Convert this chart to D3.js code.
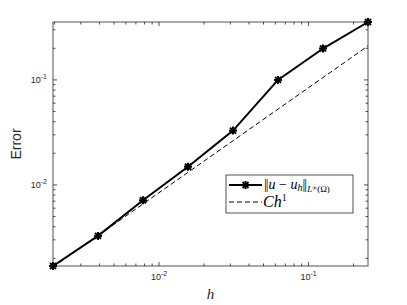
<!DOCTYPE html>
<html><head><meta charset="utf-8">
<script src="https://d3js.org/d3.v7.min.js"></script>
<style>body{margin:0;background:#fff}svg{display:block}</style>
</head><body>
<script>
const hValues = [0.001953125, 0.00390625, 0.0078125, 0.015625, 0.03125, 0.0625, 0.125, 0.25];
const errValues = [0.00169, 0.00327, 0.00714, 0.0149, 0.0329, 0.100, 0.199, 0.356];
const refC = 0.843;
const refValues = hValues.map(h => refC * h);
const xTickValues = [0.01, 0.1];
const yTickValues = [0.01, 0.1];
const xTickLabels = ["10", "10"];
const xTickExps = ["-2", "-1"];
const yTickLabels = ["10", "10"];
const yTickExps = ["-2", "-1"];

const W = 407, H = 305;
const m = {l: 53, r: 368, t: 22, b: 266};
const svg = d3.select("body").append("svg").attr("width", W).attr("height", H);
const x = d3.scaleLog().domain([hValues[0], hValues[hValues.length-1]]).range([m.l, m.r]);
const y = d3.scaleLog().domain([0.00169, 0.356]).range([m.b, m.t]);
const axisColor = "#262626";

svg.append("rect").attr("x", m.l).attr("y", m.t).attr("width", m.r - m.l).attr("height", m.b - m.t)
  .attr("fill", "none").attr("stroke", axisColor).attr("stroke-width", 0.8);

function minorTicks(dom) {
  const out = [];
  for (let e = -4; e <= 1; e++) for (let k = 1; k <= 9; k++) {
    const v = k * Math.pow(10, e);
    if (v >= dom[0] * 0.999 && v <= dom[1] * 1.001) out.push({v, major: k === 1});
  }
  return out;
}
const g = svg.append("g").attr("stroke", axisColor).attr("stroke-width", 0.8);
minorTicks(x.domain()).forEach(t => {
  const L = t.major ? 4 : 2.5, px = x(t.v);
  g.append("line").attr("x1", px).attr("x2", px).attr("y1", m.b).attr("y2", m.b - L);
  g.append("line").attr("x1", px).attr("x2", px).attr("y1", m.t).attr("y2", m.t + L);
});
minorTicks(y.domain()).forEach(t => {
  const L = t.major ? 4 : 2.5, py = y(t.v);
  g.append("line").attr("y1", py).attr("y2", py).attr("x1", m.l).attr("x2", m.l + L);
  g.append("line").attr("y1", py).attr("y2", py).attr("x1", m.r).attr("x2", m.r - L);
});

xTickValues.forEach((v, i) => {
  const t = svg.append("text").attr("x", x(v)).attr("y", m.b + 14).attr("text-anchor", "middle")
    .attr("font-family", "Liberation Sans, Arial, sans-serif").attr("font-size", 9).attr("fill", axisColor);
  t.append("tspan").text(xTickLabels[i]);
  t.append("tspan").attr("dy", -4).attr("font-size", 7).text(xTickExps[i]);
});
yTickValues.forEach((v, i) => {
  const t = svg.append("text").attr("x", m.l - 6).attr("y", y(v) + 3).attr("text-anchor", "end")
    .attr("font-family", "Liberation Sans, Arial, sans-serif").attr("font-size", 9).attr("fill", axisColor);
  t.append("tspan").text(yTickLabels[i]);
  t.append("tspan").attr("dy", -4).attr("font-size", 7).text(yTickExps[i]);
});

svg.append("text").attr("transform", `translate(21,${(m.t + m.b) / 2}) rotate(-90)`).attr("text-anchor", "middle")
  .attr("font-family", "Liberation Sans, Arial, sans-serif").attr("font-size", 14).attr("fill", axisColor).text("Error");
svg.append("text").attr("x", (m.l + m.r) / 2).attr("y", 299).attr("text-anchor", "middle")
  .attr("font-family", "Liberation Serif, DejaVu Serif, serif").attr("font-style", "italic").attr("font-size", 15)
  .attr("fill", axisColor).text("h");

const line = d3.line().x(d => x(d[0])).y(d => y(d[1]));
svg.append("path").datum(hValues.map((h, i) => [h, refValues[i]])).attr("d", line)
  .attr("fill", "none").attr("stroke", "#000").attr("stroke-width", 1).attr("stroke-dasharray", "5,3");

svg.append("path").datum(hValues.map((h, i) => [h, errValues[i]])).attr("d", line)
  .attr("fill", "none").attr("stroke", "#000").attr("stroke-width", 2);

function asterisk(sel, cx, cy, r) {
  const gg = sel.append("g").attr("stroke", "#000").attr("stroke-width", 2);
  gg.append("line").attr("x1", cx - r).attr("x2", cx + r).attr("y1", cy).attr("y2", cy);
  gg.append("line").attr("x1", cx).attr("x2", cx).attr("y1", cy - r).attr("y2", cy + r);
  const d = r * 0.75;
  gg.append("line").attr("x1", cx - d).attr("x2", cx + d).attr("y1", cy - d).attr("y2", cy + d);
  gg.append("line").attr("x1", cx - d).attr("x2", cx + d).attr("y1", cy + d).attr("y2", cy - d);
}
hValues.forEach((h, i) => asterisk(svg, x(h), y(errValues[i]), 4));

const lg = svg.append("g");
lg.append("rect").attr("x", 226).attr("y", 175).attr("width", 127).attr("height", 38)
  .attr("fill", "#fff").attr("stroke", axisColor).attr("stroke-width", 0.8);
lg.append("line").attr("x1", 229).attr("x2", 262).attr("y1", 185).attr("y2", 185).attr("stroke", "#000").attr("stroke-width", 2);
asterisk(lg, 245.5, 185, 4);
lg.append("line").attr("x1", 229).attr("x2", 262).attr("y1", 202).attr("y2", 202).attr("stroke", "#000")
  .attr("stroke-width", 1).attr("stroke-dasharray", "5,3");
const lserif = "Liberation Serif, DejaVu Serif, serif";
const t1 = lg.append("text").attr("x", 264).attr("y", 189).attr("font-family", lserif).attr("font-size", 14).attr("fill", "#000");
t1.append("tspan").attr("letter-spacing", -1).text("||");
t1.append("tspan").attr("font-style", "italic").attr("dx", 1).text("u");
t1.append("tspan").text(" − ");
t1.append("tspan").attr("font-style", "italic").text("u");
t1.append("tspan").attr("font-style", "italic").attr("font-size", 10).attr("dy", 2).text("h");
t1.append("tspan").attr("dy", -2).attr("letter-spacing", -1).text("||");
t1.append("tspan").attr("font-style", "italic").attr("font-size", 9).attr("dy", 3).attr("dx", 1).text("L");
t1.append("tspan").attr("font-size", 7).attr("dy", -2).text("∞");
t1.append("tspan").attr("font-size", 9).attr("dy", 2).text("(Ω)");
const t2 = lg.append("text").attr("x", 263).attr("y", 207).attr("font-family", lserif).attr("font-size", 16).attr("fill", "#000");
t2.append("tspan").attr("font-style", "italic").text("Ch");
t2.append("tspan").attr("font-size", 10).attr("dy", -6).text("1");
</script>
</body></html>
